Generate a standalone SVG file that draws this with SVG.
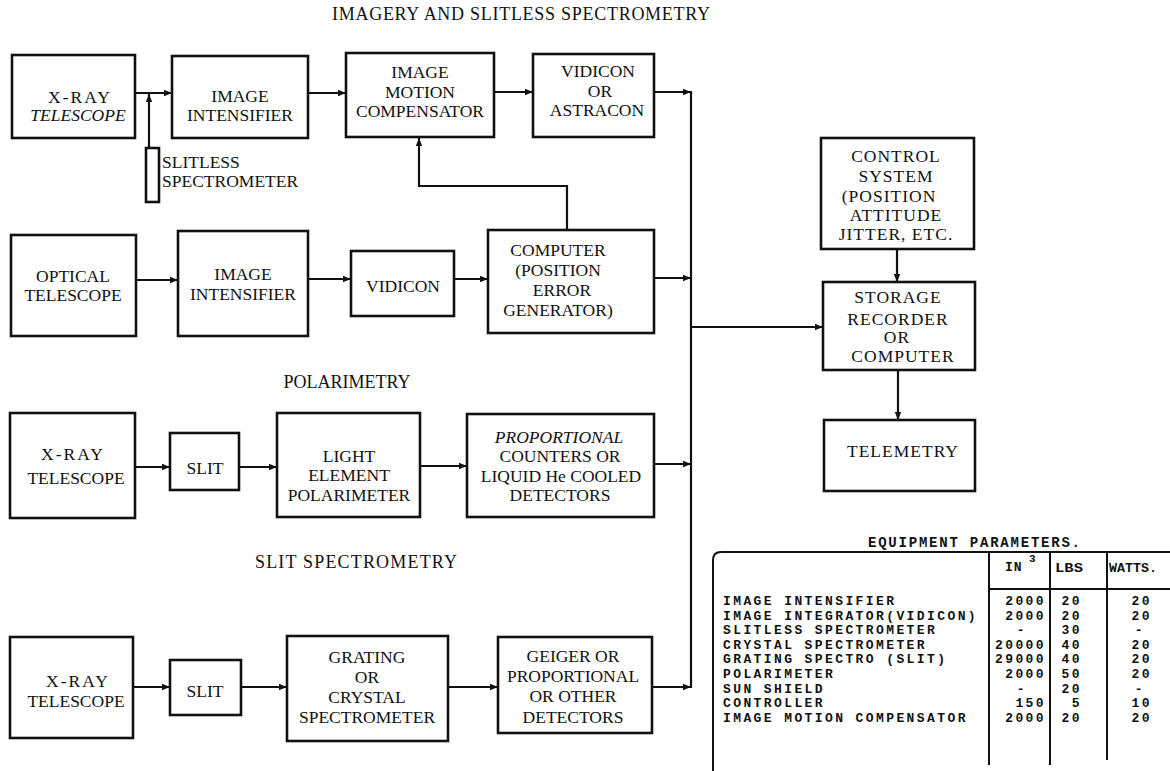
<svg xmlns="http://www.w3.org/2000/svg" width="1170" height="771" viewBox="0 0 1170 771">
  <defs>
    <marker id="ah" viewBox="0 0 10 10" refX="10" refY="5" markerWidth="10" markerHeight="8" markerUnits="userSpaceOnUse" orient="auto">
      <path d="M0,1 L10,5 L0,9 z" fill="#111"/>
    </marker>
    <style>
      .box { fill: #fff; stroke: #111; stroke-width: 2.6; }
      .ln { fill: none; stroke: #111; stroke-width: 2.2; }
      .arr { fill: none; stroke: #111; stroke-width: 2.2; marker-end: url(#ah); }
      .t { font-family: "Liberation Serif", "Times New Roman", serif; font-size: 17.5px; fill: #111; text-anchor: middle; }
      .ti { font-style: italic; }
      .hd { font-family: "Liberation Serif", "Times New Roman", serif; font-size: 18px; fill: #111; text-anchor: middle; }
      .tb { font-family: "Liberation Mono", "Courier New", monospace; font-size: 13px; letter-spacing: 2.4px; font-weight: bold; fill: #111; }
      .num { text-anchor: end; }
      .tl { fill: none; stroke: #111; stroke-width: 2; }
    </style>
  </defs>

  <rect width="1170" height="771" fill="#fff"/>

  <!-- section headings -->
  <text class="hd" x="521" y="20" textLength="378" lengthAdjust="spacing">IMAGERY AND SLITLESS SPECTROMETRY</text>
  <text class="hd" x="347" y="388">POLARIMETRY</text>
  <text class="hd" x="356" y="568" textLength="202" lengthAdjust="spacing">SLIT SPECTROMETRY</text>

  <!-- connectors -->
  <g id="connectors">
    <!-- imagery row -->
    <line class="arr" x1="135" y1="93" x2="172" y2="93"/>
    <line class="arr" x1="149" y1="148" x2="149" y2="94"/>
    <line class="arr" x1="308" y1="93" x2="346" y2="93"/>
    <line class="arr" x1="494" y1="92" x2="533" y2="92"/>
    <line class="arr" x1="654" y1="92" x2="691" y2="92"/>
    <!-- position error feedback -->
    <polyline class="arr" points="567,230 567,186 419,186 419,138"/>
    <!-- optical row -->
    <line class="arr" x1="136" y1="280" x2="178" y2="280"/>
    <line class="arr" x1="308" y1="279" x2="351" y2="279"/>
    <line class="arr" x1="454" y1="279" x2="488" y2="279"/>
    <line class="arr" x1="654" y1="278" x2="691" y2="278"/>
    <!-- polarimetry row -->
    <line class="arr" x1="135" y1="467" x2="170" y2="467"/>
    <line class="arr" x1="239" y1="467" x2="277" y2="467"/>
    <line class="arr" x1="420" y1="466" x2="467" y2="466"/>
    <line class="arr" x1="654" y1="464" x2="691" y2="464"/>
    <!-- slit spectrometry row -->
    <line class="arr" x1="133" y1="687" x2="170" y2="687"/>
    <line class="arr" x1="241" y1="687" x2="287" y2="687"/>
    <line class="arr" x1="448" y1="687" x2="498" y2="687"/>
    <line class="arr" x1="652" y1="687" x2="691" y2="687"/>
    <!-- collecting bus -->
    <line class="ln" x1="691" y1="91" x2="691" y2="688"/>
    <line class="arr" x1="691" y1="327" x2="823" y2="327"/>
    <!-- control / storage / telemetry chain -->
    <line class="arr" x1="897" y1="249" x2="897" y2="282"/>
    <line class="arr" x1="898" y1="370" x2="898" y2="420"/>
  </g>

  <!-- imagery row -->
  <g id="xray-telescope-1">
    <rect class="box" x="12" y="55" width="123" height="83"/>
    <text class="t" x="80" y="103" letter-spacing="2">X-RAY</text>
    <text class="t ti" x="78" y="121">TELESCOPE</text>
  </g>
  <g id="image-intensifier-1">
    <rect class="box" x="172" y="56" width="136" height="82"/>
    <text class="t" x="240" y="102">IMAGE</text>
    <text class="t" x="240" y="121">INTENSIFIER</text>
  </g>
  <g id="image-motion-compensator">
    <rect class="box" x="346" y="53" width="148" height="84"/>
    <text class="t" x="420" y="78">IMAGE</text>
    <text class="t" x="420" y="98">MOTION</text>
    <text class="t" x="420" y="117">COMPENSATOR</text>
  </g>
  <g id="vidicon-astracon">
    <rect class="box" x="533" y="54" width="121" height="83"/>
    <text class="t" x="598" y="77">VIDICON</text>
    <text class="t" x="600" y="97">OR</text>
    <text class="t" x="597" y="116">ASTRACON</text>
  </g>
  <g id="slitless-spectrometer">
    <rect class="box" x="146" y="148" width="13" height="54"/>
    <text class="t" x="162" y="168" style="text-anchor:start">SLITLESS</text>
    <text class="t" x="162" y="187" style="text-anchor:start">SPECTROMETER</text>
  </g>

  <!-- optical row -->
  <g id="optical-telescope">
    <rect class="box" x="11" y="235" width="125" height="101"/>
    <text class="t" x="73" y="282">OPTICAL</text>
    <text class="t" x="73" y="301">TELESCOPE</text>
  </g>
  <g id="image-intensifier-2">
    <rect class="box" x="178" y="231" width="130" height="105"/>
    <text class="t" x="243" y="280">IMAGE</text>
    <text class="t" x="243" y="300">INTENSIFIER</text>
  </g>
  <g id="vidicon">
    <rect class="box" x="351" y="251" width="103" height="65"/>
    <text class="t" x="403" y="292">VIDICON</text>
  </g>
  <g id="computer">
    <rect class="box" x="488" y="230" width="166" height="103"/>
    <text class="t" x="558" y="256">COMPUTER</text>
    <text class="t" x="558" y="276">(POSITION</text>
    <text class="t" x="562" y="296">ERROR</text>
    <text class="t" x="558" y="316">GENERATOR)</text>
  </g>

  <!-- polarimetry row -->
  <g id="xray-telescope-2">
    <rect class="box" x="10" y="413" width="125" height="105"/>
    <text class="t" x="73" y="460" letter-spacing="2">X-RAY</text>
    <text class="t" x="76" y="484">TELESCOPE</text>
  </g>
  <g id="slit-1">
    <rect class="box" x="170" y="433" width="69" height="57"/>
    <text class="t" x="205" y="474">SLIT</text>
  </g>
  <g id="light-element-polarimeter">
    <rect class="box" x="277" y="413" width="143" height="104"/>
    <text class="t" x="349" y="462">LIGHT</text>
    <text class="t" x="349" y="481">ELEMENT</text>
    <text class="t" x="349" y="501">POLARIMETER</text>
  </g>
  <g id="proportional-counters">
    <rect class="box" x="467" y="414" width="187" height="103"/>
    <text class="t ti" x="559" y="443">PROPORTIONAL</text>
    <text class="t" x="560" y="462">COUNTERS OR</text>
    <text class="t" x="561" y="482">LIQUID He COOLED</text>
    <text class="t" x="560" y="501">DETECTORS</text>
  </g>

  <!-- slit spectrometry row -->
  <g id="xray-telescope-3">
    <rect class="box" x="10" y="637" width="123" height="101"/>
    <text class="t" x="78" y="687" letter-spacing="2">X-RAY</text>
    <text class="t" x="76" y="707">TELESCOPE</text>
  </g>
  <g id="slit-2">
    <rect class="box" x="170" y="660" width="71" height="55"/>
    <text class="t" x="205" y="697">SLIT</text>
  </g>
  <g id="grating-crystal-spectrometer">
    <rect class="box" x="287" y="636" width="161" height="105"/>
    <text class="t" x="367" y="663">GRATING</text>
    <text class="t" x="367" y="683">OR</text>
    <text class="t" x="367" y="703">CRYSTAL</text>
    <text class="t" x="367" y="723">SPECTROMETER</text>
  </g>
  <g id="detectors">
    <rect class="box" x="498" y="637" width="154" height="96"/>
    <text class="t" x="573" y="662">GEIGER OR</text>
    <text class="t" x="573" y="682">PROPORTIONAL</text>
    <text class="t" x="573" y="702">OR OTHER</text>
    <text class="t" x="573" y="723">DETECTORS</text>
  </g>

  <!-- right-hand chain -->
  <g id="control-system">
    <rect class="box" x="821" y="138" width="153" height="111"/>
    <text class="t" x="896" y="162" letter-spacing="1">CONTROL</text>
    <text class="t" x="896" y="182" letter-spacing="1">SYSTEM</text>
    <text class="t" x="889" y="202" letter-spacing="1">(POSITION</text>
    <text class="t" x="896" y="221" letter-spacing="1">ATTITUDE</text>
    <text class="t" x="896" y="240" letter-spacing="1">JITTER, ETC.</text>
  </g>
  <g id="storage">
    <rect class="box" x="823" y="282" width="152" height="88"/>
    <text class="t" x="898" y="303" letter-spacing="1">STORAGE</text>
    <text class="t" x="898" y="325" letter-spacing="1">RECORDER</text>
    <text class="t" x="897" y="343" letter-spacing="1">OR</text>
    <text class="t" x="903" y="362" letter-spacing="1">COMPUTER</text>
  </g>
  <g id="telemetry">
    <rect class="box" x="824" y="420" width="151" height="71"/>
    <text class="t" x="903" y="457" letter-spacing="1">TELEMETRY</text>
  </g>

  <!-- equipment parameter table -->
  <g id="equipment-table">
    <text class="tb" x="868" y="547" textLength="212" lengthAdjust="spacing" style="letter-spacing:0;font-size:14px">EQUIPMENT PARAMETERS.</text>
    <path class="tl" d="M713,771 L713,560 Q713,552 721,552 L1170,552"/>
    <line class="tl" x1="989" y1="552" x2="989" y2="765"/>
    <line class="tl" x1="1050" y1="552" x2="1050" y2="765"/>
    <line class="tl" x1="1107" y1="552" x2="1107" y2="760"/>
    <line class="tl" x1="989" y1="589" x2="1170" y2="589"/>

    <text class="tb" x="1005" y="571" style="letter-spacing:1px">IN</text>
    <text class="tb" x="1029" y="562" style="font-size:11px;letter-spacing:0">3</text>
    <text class="tb" x="1055" y="572" textLength="28" lengthAdjust="spacingAndGlyphs" style="letter-spacing:0">LBS</text>
    <text class="tb" x="1109" y="572" textLength="48" lengthAdjust="spacingAndGlyphs" style="letter-spacing:0">WATTS.</text>

    <text class="tb" x="723" y="605">IMAGE INTENSIFIER</text>
    <text class="tb" x="723" y="620">IMAGE INTEGRATOR(VIDICON)</text>
    <text class="tb" x="723" y="634">SLITLESS SPECTROMETER</text>
    <text class="tb" x="723" y="649">CRYSTAL SPECTROMETER</text>
    <text class="tb" x="723" y="663">GRATING SPECTRO (SLIT)</text>
    <text class="tb" x="723" y="678">POLARIMETER</text>
    <text class="tb" x="723" y="693">SUN SHIELD</text>
    <text class="tb" x="723" y="707">CONTROLLER</text>
    <text class="tb" x="723" y="722">IMAGE MOTION COMPENSATOR</text>

    <g class="tb num">
      <text x="1046" y="605">2000</text>
      <text x="1046" y="620">2000</text>
      <text x="1027" y="634">-</text>
      <text x="1046" y="649">20000</text>
      <text x="1046" y="663">29000</text>
      <text x="1046" y="678">2000</text>
      <text x="1027" y="693">-</text>
      <text x="1046" y="707">150</text>
      <text x="1046" y="722">2000</text>

      <text x="1082" y="605">20</text>
      <text x="1082" y="620">20</text>
      <text x="1082" y="634">30</text>
      <text x="1082" y="649">40</text>
      <text x="1082" y="663">40</text>
      <text x="1082" y="678">50</text>
      <text x="1082" y="693">20</text>
      <text x="1082" y="707">5</text>
      <text x="1082" y="722">20</text>

      <text x="1152" y="605">20</text>
      <text x="1152" y="620">20</text>
      <text x="1145" y="634">-</text>
      <text x="1152" y="649">20</text>
      <text x="1152" y="663">20</text>
      <text x="1152" y="678">20</text>
      <text x="1145" y="693">-</text>
      <text x="1152" y="707">10</text>
      <text x="1152" y="722">20</text>
    </g>
  </g>
</svg>
